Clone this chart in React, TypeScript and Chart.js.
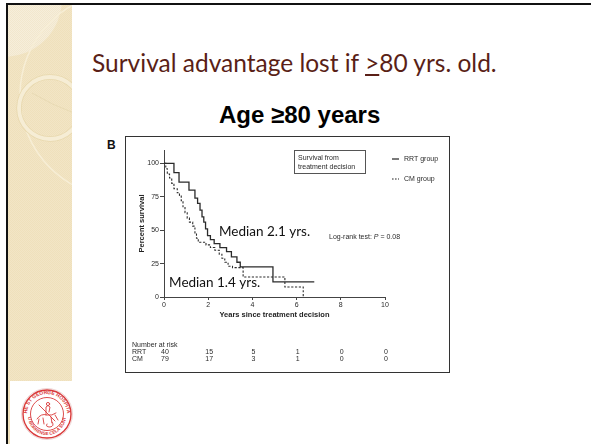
import React, { useEffect, useRef } from "react";
import { Chart, registerables } from "chart.js";

Chart.register(...registerables);

const rrtTimes = [0, 0.45, 0.68, 1.13, 1.4, 1.52, 1.63, 1.72, 1.8, 1.88, 1.97, 2.1, 2.27, 2.53, 2.83, 3.05, 3.3, 3.45, 4.93, 6.8];
const rrtSurvival = [100, 93, 86, 80, 74, 70, 65, 60, 56, 51, 46, 43, 40, 37, 34, 30, 26, 22.5, 11.3, 11.3];

const cmTimes = [0, 0.08, 0.15, 0.25, 0.35, 0.45, 0.6, 0.7, 0.78, 0.86, 0.95, 1.05, 1.15, 1.3, 1.4, 1.47, 1.55, 1.9, 2.1, 2.3, 2.5, 2.62, 2.75, 2.9, 3.1, 3.58, 5.47, 6.3];
const cmSurvival = [100, 96, 92, 89, 85, 81, 78, 76, 72, 67, 63, 59, 56, 53, 48, 44, 41, 39, 37, 35, 32, 29, 26, 23, 22, 15, 7.5, 0];

const xTicks = [0, 2, 4, 6, 8, 10];
const yTicks = [0, 25, 50, 75, 100];

const riskTimes = [0, 2, 4, 6, 8, 10];
const riskRRT = [40, 15, 5, 1, 0, 0];
const riskCM = [79, 17, 3, 1, 0, 0];

const seriesLabels = ["RRT group", "CM group"];
const medianNotes = [
  { text: "Median 2.1 yrs.", x: 2.49, y: 48.6 },
  { text: "Median 1.4 yrs.", x: 0.23, y: 10.5 },
];

const FONT = '"Liberation Sans", Arial, sans-serif';
const GILL = 'Lato, "Noto Sans", sans-serif';

const overlayPlugin = {
  id: "overlay",
  afterDraw(chart: any) {
    const ctx = chart.ctx as CanvasRenderingContext2D;
    const xs = chart.scales.x;
    const ys = chart.scales.y;
    const area = chart.chartArea;
    ctx.save();
    ctx.fillStyle = "#2a2a2a";
    ctx.strokeStyle = "#333";
    ctx.textBaseline = "middle";

    // "Survival from treatment decision" box
    const bx = area.left + 130;
    const by = area.top;
    ctx.lineWidth = 1;
    ctx.strokeStyle = "#555";
    ctx.strokeRect(bx + 0.5, by + 0.5, 71, 23);
    ctx.font = `7px ${FONT}`;
    ctx.textAlign = "left";
    ctx.fillText("Survival from", bx + 4, by + 8);
    ctx.fillText("treatment decision", bx + 4, by + 17);

    // series legend
    const lx = area.right + 7;
    const rows = [area.top + 9, area.top + 29];
    ctx.strokeStyle = "#222";
    ctx.lineWidth = 1.2;
    ctx.setLineDash([]);
    ctx.beginPath();
    ctx.moveTo(lx, rows[0]);
    ctx.lineTo(lx + 7, rows[0]);
    ctx.stroke();
    ctx.setLineDash([1.6, 1.4]);
    ctx.lineWidth = 1;
    ctx.beginPath();
    ctx.moveTo(lx, rows[1]);
    ctx.lineTo(lx + 7, rows[1]);
    ctx.stroke();
    ctx.setLineDash([]);
    ctx.fillText(seriesLabels[0], lx + 12, rows[0]);
    ctx.fillText(seriesLabels[1], lx + 12, rows[1]);

    // Log-rank test
    let px = xs.getPixelForValue(7.47);
    const py = ys.getPixelForValue(44.9);
    const part1 = "Log-rank test: ";
    ctx.fillText(part1, px, py);
    px += ctx.measureText(part1).width;
    ctx.font = `italic 7px ${FONT}`;
    ctx.fillText("P", px, py);
    px += ctx.measureText("P").width;
    ctx.font = `7px ${FONT}`;
    ctx.fillText(" = 0.08", px, py);

    // Median annotations
    ctx.font = `13.5px ${GILL}`;
    ctx.fillStyle = "#111";
    medianNotes.forEach((m) => {
      ctx.fillText(m.text, xs.getPixelForValue(m.x), ys.getPixelForValue(m.y));
    });

    // Number at risk table
    ctx.font = `7px ${FONT}`;
    ctx.fillStyle = "#2a2a2a";
    const tx = area.left - 32;
    const ty = area.bottom + 48;
    ctx.textAlign = "left";
    ctx.fillText("Number at risk", tx, ty);
    ctx.fillText("RRT", tx, ty + 7);
    ctx.fillText("CM", tx, ty + 14);
    ctx.textAlign = "center";
    riskTimes.forEach((t, i) => {
      const cx = xs.getPixelForValue(t) + 1;
      ctx.fillText(String(riskRRT[i]), cx, ty + 7);
      ctx.fillText(String(riskCM[i]), cx, ty + 14);
    });
    ctx.restore();
  },
};

function Logo() {
  return (
    <svg width="56" height="56" viewBox="0 0 56 56" style={{ position: "absolute", left: 19, top: 386 }}>
      <defs>
        <path id="topArc" d="M 8 28 A 20 20 0 0 1 48 28" />
        <path id="botArc" d="M 9 30 A 19 19 0 0 0 47 30" />
      </defs>
      <circle cx="28" cy="28" r="25.5" fill="#fff" stroke="#eed6d6" strokeWidth="1" />
      <circle cx="28" cy="28" r="24" fill="#fff" stroke="#d93a3a" strokeWidth="1.4" />
      <circle cx="28" cy="28" r="16.5" fill="#fff" stroke="#d93a3a" strokeWidth="0.9" />
      <text fontSize="5" fill="#d93a3a" fontFamily={FONT} fontWeight="bold">
        <textPath href="#topArc" startOffset="50%" textAnchor="middle">THE ST GEORGE HOSPITAL</textPath>
      </text>
      <text fontSize="4.5" fill="#d93a3a" fontFamily={FONT} fontWeight="bold">
        <textPath href="#botArc" startOffset="50%" textAnchor="middle">TU BORRENSE CELA SUNTE</textPath>
      </text>
      <g stroke="#d93a3a" strokeWidth="0.9" fill="none" strokeLinecap="round">
        <path d="M 18 33 Q 22 27 28 29 Q 33 30 37 27" />
        <path d="M 20 33 L 19 38 M 24 32 L 25 38 M 32 31 L 33 37 M 36 29 L 39 34" />
        <path d="M 27 29 L 27 21 Q 29 18 31 21 L 30 26" />
        <path d="M 20 19 L 36 35" />
        <path d="M 33 36 Q 36 40 31 41 Q 26 41 28 38" />
        <circle cx="29" cy="18" r="1.6" />
      </g>
    </svg>
  );
}

function SideStrip() {
  return (
    <svg width="64" height="376" viewBox="0 0 64 376" style={{ position: "absolute", left: 8, top: 5 }}>
      <defs>
        <pattern id="tex" width="2" height="2" patternUnits="userSpaceOnUse">
          <rect width="2" height="2" fill="#efe0bb" />
          <rect width="1" height="1" fill="#f2e5c6" />
          <rect x="1" y="1" width="1" height="1" fill="#f2e5c6" />
        </pattern>
        <pattern id="tex2" width="2" height="2" patternUnits="userSpaceOnUse">
          <rect width="2" height="2" fill="#f2e7cd" />
          <rect width="1" height="1" fill="#f6eedb" />
          <rect x="1" y="1" width="1" height="1" fill="#f6eedb" />
        </pattern>
        <clipPath id="stripClip">
          <rect width="64" height="376" />
        </clipPath>
      </defs>
      <g clipPath="url(#stripClip)">
        <rect width="64" height="376" fill="url(#tex)" />
        <circle cx="-4" cy="-6" r="58" fill="url(#tex2)" />
        <circle cx="115" cy="90" r="103" fill="none" stroke="#f7eed6" strokeWidth="1.5" />
        <circle cx="42" cy="103" r="31" fill="none" stroke="#e8d8ae" strokeWidth="5.5" />
        <circle cx="42" cy="103" r="31" fill="none" stroke="#f6edd5" strokeWidth="3.8" />
        <path d="M 24 88 Q 44 100 66 108" fill="none" stroke="#e8dab4" strokeWidth="1" />
      </g>
    </svg>
  );
}

export default function App() {
  const canvasRef = useRef<HTMLCanvasElement | null>(null);

  useEffect(() => {
    if (!canvasRef.current) return;
    const chart = new Chart(canvasRef.current, {
      type: "line",
      data: {
        datasets: [
          {
            label: seriesLabels[0],
            data: rrtTimes.map((t, i) => ({ x: t, y: rrtSurvival[i] })),
            stepped: "before",
            borderColor: "#2b2b2b",
            borderWidth: 1.3,
            pointRadius: 0,
            fill: false,
          },
          {
            label: seriesLabels[1],
            data: cmTimes.map((t, i) => ({ x: t, y: cmSurvival[i] })),
            stepped: "before",
            borderColor: "#2b2b2b",
            borderWidth: 1.1,
            borderDash: [2.2, 1.6],
            pointRadius: 0,
            fill: false,
          },
        ],
      },
      options: {
        animation: false,
        responsive: false,
        events: [],
        layout: { padding: { left: 134, top: 150, right: 206, bottom: 123 } },
        plugins: { legend: { display: false }, tooltip: { enabled: false } },
        scales: {
          x: {
            type: "linear",
            min: 0,
            max: 10,
            afterBuildTicks: (axis: any) => {
              axis.ticks = xTicks.map((v) => ({ value: v }));
            },
            afterFit: (s: any) => {
              s.height = 24;
            },
            grid: { display: true, drawOnChartArea: false, drawTicks: true, tickLength: 3, color: "#444" },
            border: { display: true, color: "#444", width: 1 },
            ticks: { font: { family: FONT, size: 7 }, color: "#2a2a2a", padding: 1, maxRotation: 0, autoSkip: false },
            title: {
              display: true,
              text: "Years since treatment decision",
              font: { family: FONT, size: 7.5, weight: "bold" },
              color: "#222",
              padding: { top: 0, bottom: 2 },
            },
          },
          y: {
            type: "linear",
            min: 0,
            max: 110,
            afterBuildTicks: (axis: any) => {
              axis.ticks = yTicks.map((v) => ({ value: v }));
            },
            afterFit: (s: any) => {
              s.width = 30;
            },
            grid: { display: true, drawOnChartArea: false, drawTicks: true, tickLength: 4, color: "#444" },
            border: { display: true, color: "#444", width: 1 },
            ticks: { font: { family: FONT, size: 7 }, color: "#2a2a2a", padding: 1, autoSkip: false },
            title: {
              display: true,
              text: "Percent survival",
              font: { family: FONT, size: 7.5, weight: "bold" },
              color: "#222",
              padding: { top: 3, bottom: 0 },
            },
          },
        },
      },
      plugins: [overlayPlugin],
    } as any);
    return () => chart.destroy();
  }, []);

  return (
    <div style={{ position: "absolute", left: 0, top: 0, width: 591, height: 444, background: "#fff", overflow: "hidden" }}>
      {/* slide frame */}
      <div style={{ position: "absolute", left: 6, top: 3, right: 0, height: 2, background: "#111" }} />
      <div style={{ position: "absolute", left: 6, top: 3, bottom: 0, width: 2, background: "#111" }} />
      <div style={{ position: "absolute", left: 8, top: 381, bottom: 0, width: 2, background: "#efe0bb" }} />
      <SideStrip />
      <Logo />

      {/* slide title */}
      <div
        style={{
          position: "absolute",
          left: 92,
          top: 48,
          lineHeight: "30px",
          fontFamily: GILL,
          fontSize: 24.5,
          color: "#5a1f17",
          whiteSpace: "nowrap",
        }}
      >
        Survival advantage lost if <span style={{ textDecoration: "underline" }}>&gt;</span>80 yrs. old.
      </div>
      <div
        style={{
          position: "absolute",
          left: 219,
          top: 101,
          lineHeight: "28px",
          fontFamily: FONT,
          fontWeight: "bold",
          fontSize: 24,
          color: "#000",
          whiteSpace: "nowrap",
        }}
      >
        Age ≥80 years
      </div>

      {/* figure frame */}
      <div
        style={{
          position: "absolute",
          left: 125,
          top: 136,
          width: 325,
          height: 237,
          boxSizing: "border-box",
          border: "1px solid #333",
        }}
      />
      <div
        style={{
          position: "absolute",
          left: 107,
          top: 139,
          lineHeight: "13px",
          fontFamily: FONT,
          fontWeight: "bold",
          fontSize: 12,
          color: "#111",
        }}
      >
        B
      </div>

      <canvas
        ref={canvasRef}
        width={591}
        height={444}
        style={{ position: "absolute", left: 0, top: 0, width: 591, height: 444 }}
      />
    </div>
  );
}
